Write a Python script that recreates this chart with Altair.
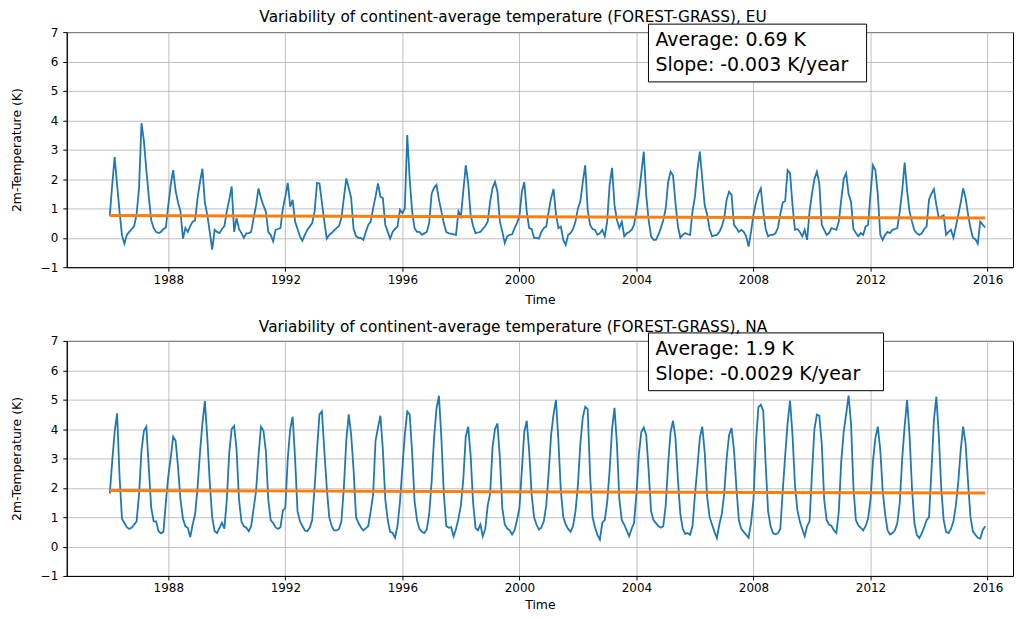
import altair as alt
import pandas as pd

# ---- data (monthly, Jan 1986 .. Dec 2015) ----
eu_monthly = [
    0.75, 1.8, 2.75, 1.8, 0.9, 0.08, -0.2, 0.1, 0.2, 0.3, 0.4, 0.8,        # 1986
    1.7, 3.9, 3.3, 2.3, 1.4, 0.6, 0.33, 0.2, 0.16, 0.2, 0.3, 0.35,         # 1987
    1.1, 1.8, 2.3, 1.6, 1.2, 0.9, -0.03, 0.33, 0.2, 0.4, 0.55, 0.6,        # 1988
    1.35, 1.9, 2.35, 1.2, 0.78, 0.2, -0.4, 0.27, 0.2, 0.16, 0.3, 0.4,      # 1989
    0.9, 1.3, 1.75, 0.2, 0.67, 0.3, 0.16, 0.0, 0.15, 0.16, 0.2, 0.67,      # 1990
    1.1, 1.68, 1.35, 1.1, 0.9, 0.2, 0.1, -0.12, 0.27, 0.3, 0.33, 1.0,      # 1991
    1.4, 1.87, 1.06, 1.29, 0.55, 0.3, 0.05, -0.1, 0.1, 0.27, 0.38, 0.5,    # 1992
    0.9, 1.87, 1.85, 1.2, 0.55, -0.03, 0.1, 0.16, 0.25, 0.33, 0.4, 0.67,   # 1993
    1.35, 2.02, 1.7, 1.35, 0.3, 0.05, 0.0, 0.0, -0.07, 0.2, 0.44, 0.55,    # 1994
    1.0, 1.4, 1.85, 1.4, 1.35, 0.44, 0.2, -0.03, 0.2, 0.3, 0.38, 0.95,     # 1995
    0.84, 1.0, 3.5, 2.0, 0.9, 0.33, 0.2, 0.2, 0.1, 0.15, 0.2, 0.5,         # 1996
    1.5, 1.7, 1.8, 1.3, 0.9, 0.5, 0.2, 0.15, 0.14, 0.12, 0.1, 0.9,         # 1997
    0.72, 1.6, 2.47, 1.85, 0.78, 0.4, 0.16, 0.18, 0.2, 0.3, 0.4, 0.55,     # 1998
    1.23, 1.7, 1.9, 1.57, 0.55, 0.2, -0.18, 0.05, 0.1, 0.12, 0.33, 0.5,    # 1999
    0.72, 1.57, 1.9, 0.9, 0.33, 0.3, 0.0, 0.0, -0.03, 0.2, 0.33, 0.38,     # 2000
    0.9, 1.35, 1.66, 0.8, 0.33, 0.38, -0.07, -0.24, 0.1, 0.16, 0.3, 0.55,  # 2001
    1.0, 1.23, 1.9, 2.47, 0.95, 0.44, 0.3, 0.27, 0.1, 0.15, 0.27, 0.05,    # 2002
    0.55, 1.8, 2.38, 1.12, 0.6, 0.33, 0.55, 0.05, 0.15, 0.2, 0.27, 0.44,   # 2003
    0.9, 1.46, 2.2, 2.93, 1.46, 0.6, 0.05, -0.07, -0.07, 0.1, 0.33, 0.6,   # 2004
    1.0, 1.9, 2.25, 2.13, 1.2, 0.4, 0.0, 0.1, 0.16, 0.12, 0.1, 0.9,        # 2005
    1.4, 2.3, 2.93, 2.0, 1.1, 0.8, 0.3, 0.05, 0.08, 0.1, 0.2, 0.38,        # 2006
    0.67, 1.3, 1.57, 1.46, 0.44, 0.33, 0.2, 0.27, 0.2, 0.05, -0.3, 0.2,    # 2007
    0.8, 1.2, 1.5, 1.68, 0.9, 0.3, 0.05, 0.1, 0.1, 0.15, 0.33, 0.8,        # 2008
    1.2, 1.25, 2.3, 2.2, 1.12, 0.27, 0.3, 0.2, 0.05, 0.27, -0.07, 0.9,     # 2009
    1.5, 2.0, 2.25, 1.85, 0.44, 0.27, 0.1, 0.16, 0.33, 0.3, 0.27, 0.55,    # 2010
    1.3, 2.0, 2.2, 1.5, 1.23, 0.3, 0.16, 0.05, 0.16, 0.1, 0.38, 0.44,      # 2011
    1.5, 2.47, 2.3, 1.46, 0.1, -0.07, 0.1, 0.2, 0.16, 0.27, 0.3, 0.33,     # 2012
    0.9, 1.6, 2.56, 1.6, 0.9, 0.55, 0.25, 0.15, 0.1, 0.15, 0.3, 0.38,      # 2013
    1.3, 1.5, 1.66, 1.12, 0.67, 0.72, 0.76, 0.1, 0.2, 0.27, 0.0, 0.38,     # 2014
    0.78, 1.2, 1.68, 1.35, 0.8, 0.33, 0.0, -0.05, -0.2, 0.55, 0.45, 0.35,  # 2015
]

na_monthly = [
    1.8, 2.9, 3.9, 4.53, 2.4, 0.95, 0.8, 0.66, 0.6, 0.65, 0.75, 0.86,      # 1986
    1.77, 3.26, 3.94, 4.08, 2.69, 1.32, 0.86, 0.86, 0.52, 0.45, 0.5, 1.5,  # 1987
    2.4, 3.03, 3.74, 3.6, 2.7, 1.6, 0.95, 0.69, 0.64, 0.32, 0.75, 1.1,     # 1988
    2.0, 3.2, 4.2, 4.95, 3.7, 2.2, 1.0, 0.52, 0.46, 0.64, 0.81, 0.61,      # 1989
    1.6, 3.2, 4.0, 4.11, 3.3, 1.6, 0.85, 0.69, 0.64, 0.52, 0.7, 1.3,       # 1990
    1.89, 3.1, 4.08, 3.95, 3.26, 1.6, 0.9, 0.8, 0.65, 0.6, 0.66, 1.23,     # 1991
    1.32, 3.0, 4.0, 4.42, 3.0, 1.2, 0.86, 0.7, 0.55, 0.52, 0.64, 0.9,      # 1992
    2.0, 3.3, 4.5, 4.6, 3.26, 2.0, 1.0, 0.7, 0.55, 0.55, 0.6, 0.86,        # 1993
    2.0, 3.6, 4.5, 3.8, 2.6, 1.0, 0.8, 0.65, 0.55, 0.62, 0.7, 1.2,         # 1994
    1.77, 3.6, 4.05, 4.45, 3.3, 1.6, 0.9, 0.5, 0.46, 0.3, 0.7, 1.5,        # 1995
    2.69, 3.8, 4.6, 4.5, 3.2, 1.55, 0.9, 0.6, 0.5, 0.46, 0.58, 1.1,        # 1996
    2.2, 3.7, 4.7, 5.13, 3.7, 1.8, 0.7, 0.64, 0.66, 0.35, 0.6, 0.95,       # 1997
    1.4, 2.3, 3.75, 4.08, 3.1, 1.5, 0.64, 0.55, 0.75, 0.35, 0.6, 1.4,      # 1998
    1.8, 3.4, 4.0, 4.19, 3.0, 1.3, 0.75, 0.62, 0.55, 0.41, 0.55, 0.9,      # 1999
    1.3, 2.6, 3.9, 4.28, 3.26, 1.8, 1.0, 0.75, 0.58, 0.65, 0.86, 1.4,      # 2000
    2.5, 3.8, 4.5, 4.99, 3.6, 1.9, 1.0, 0.75, 0.6, 0.5, 0.7, 1.2,          # 2001
    2.1, 3.5, 4.4, 4.76, 4.68, 2.4, 1.0, 0.65, 0.4, 0.24, 0.81, 0.9,       # 2002
    1.5, 2.6, 4.0, 4.72, 3.5, 1.6, 0.9, 0.75, 0.55, 0.35, 0.6, 0.8,        # 2003
    1.8, 3.14, 3.9, 4.05, 3.8, 2.6, 1.2, 0.9, 0.8, 0.7, 0.64, 0.69,        # 2004
    1.4, 2.8, 3.9, 4.28, 3.7, 2.3, 1.1, 0.6, 0.43, 0.46, 0.4, 0.7,         # 2005
    1.77, 2.7, 3.7, 4.08, 3.2, 1.7, 1.0, 0.75, 0.5, 0.29, 0.75, 1.1,       # 2006
    1.8, 3.0, 3.8, 4.03, 3.3, 2.0, 0.9, 0.6, 0.5, 0.4, 0.3, 0.8,           # 2007
    1.6, 3.5, 4.74, 4.83, 4.62, 2.8, 1.2, 0.7, 0.46, 0.42, 0.45, 0.6,      # 2008
    1.9, 3.1, 4.2, 4.97, 3.8, 2.12, 1.25, 0.85, 0.6, 0.35, 0.7, 0.86,      # 2009
    2.5, 4.0, 4.49, 4.45, 3.5, 1.6, 0.9, 0.75, 0.7, 0.55, 0.46, 1.2,       # 2010
    2.9, 3.9, 4.5, 5.14, 4.2, 2.0, 0.9, 0.72, 0.64, 0.55, 0.7, 0.95,       # 2011
    1.6, 2.9, 3.7, 4.08, 3.3, 1.9, 1.1, 0.55, 0.41, 0.46, 0.55, 0.8,       # 2012
    1.5, 3.0, 4.1, 4.99, 3.8, 2.0, 0.8, 0.4, 0.29, 0.45, 0.65, 0.9,        # 2013
    1.0, 2.6, 4.3, 5.1, 3.8, 2.0, 0.9, 0.5, 0.46, 0.6, 0.85, 1.4,          # 2014
    2.2, 3.3, 4.08, 3.5, 2.2, 1.0, 0.52, 0.4, 0.3, 0.27, 0.55, 0.69,       # 2015
]

panel_titles = [
    "Variability of continent-average temperature (FOREST-GRASS), EU",
    "Variability of continent-average temperature (FOREST-GRASS), NA",
]
avg_texts = ["Average: 0.69 K", "Average: 1.9 K"]
slope_texts = ["Slope: -0.003 K/year", "Slope: -0.0029 K/year"]
trend_start = [0.76, 1.91]   # trend line value at Jan 1986
trend_end = [0.67, 1.82]     # trend line value at Dec 2015
x_ticks = [1988, 1992, 1996, 2000, 2004, 2008, 2012, 2016]
y_ticks = [-1, 0, 1, 2, 3, 4, 5, 6, 7]

FONT = "DejaVu Sans"
times = [1986 + i / 12 for i in range(len(eu_monthly))]

PLOT_W = 950
PLOT_H = 236


def panel(values, title, avg, slope, ts, te, box_w, title_y, time_pad):
    xenc = alt.X(
        "t:Q",
        scale=alt.Scale(domain=[1984.53, 2016.87], nice=False, zero=False),
        axis=alt.Axis(values=x_ticks, format="d", title="Time", grid=True,
                      labelPadding=3, titlePadding=time_pad, labelOverlap=False),
    )
    yenc = alt.Y(
        "v:Q",
        scale=alt.Scale(domain=[-1, 7], nice=False, zero=False),
        axis=alt.Axis(values=y_ticks, title="2m-Temperature (K)", grid=True,
                      labelPadding=5, titlePadding=17, labelOverlap=False),
    )
    df = pd.DataFrame({"t": times, "v": values})
    line = alt.Chart(df).mark_line(color="#1f77b4", strokeWidth=1.8).encode(x=xenc, y=yenc)

    trend_df = pd.DataFrame({"t": [times[0], times[-1]], "v": [ts, te]})
    trend = alt.Chart(trend_df).mark_line(color="#ff7f0e", strokeWidth=3).encode(x=xenc, y=yenc)

    ann_df = pd.DataFrame({"avg": [avg], "slope": [slope], "title": [title]})
    box = alt.Chart(ann_df).mark_rect(fill="white", stroke="black", strokeWidth=1).encode(
        x=alt.value(584), x2=alt.value(584 + box_w), y=alt.value(-8), y2=alt.value(50))
    t1 = alt.Chart(ann_df).mark_text(align="left", baseline="alphabetic", fontSize=19,
                                     font=FONT, color="black").encode(
        x=alt.value(591), y=alt.value(14), text="avg:N")
    t2 = alt.Chart(ann_df).mark_text(align="left", baseline="alphabetic", fontSize=19,
                                     font=FONT, color="black").encode(
        x=alt.value(591), y=alt.value(39), text="slope:N")
    ttl = alt.Chart(ann_df).mark_text(align="center", baseline="middle", fontSize=15.4,
                                      font=FONT, color="black").encode(
        x=alt.value(448), y=alt.value(title_y), text="title:N")

    return alt.layer(line, trend, box, t1, t2, ttl).properties(width=PLOT_W, height=PLOT_H)


top = panel(eu_monthly, panel_titles[0], avg_texts[0], slope_texts[0],
            trend_start[0], trend_end[0], 219, -15, 8)
bottom = panel(na_monthly, panel_titles[1], avg_texts[1], slope_texts[1],
               trend_start[1], trend_end[1], 236, -14, 5)

chart = (
    alt.vconcat(top, bottom, spacing=13)
    .properties(padding={"left": 1, "top": 0, "right": 0, "bottom": 0})
    .configure_view(stroke="black", strokeWidth=1)
    .configure_axis(
        labelFont=FONT, labelFontSize=12, labelColor="black",
        titleFont=FONT, titleFontSize=12.5, titleFontWeight="normal", titleColor="black",
        domainColor="black", tickColor="black", tickSize=4,
        gridColor="#b0b0b0", gridWidth=0.8,
    )
)

chart.save("out.html", embed_options={"renderer": "svg", "actions": False})
